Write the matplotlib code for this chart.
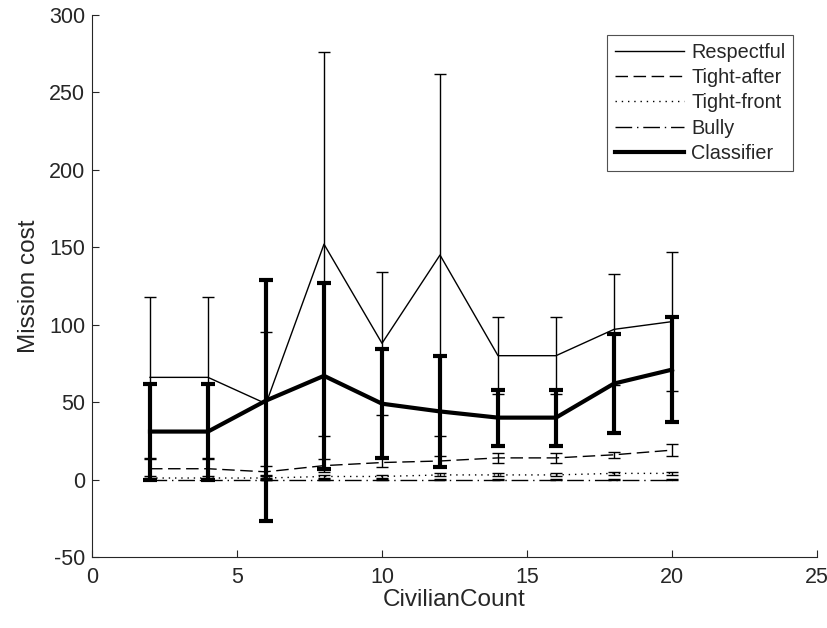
import matplotlib
matplotlib.use("Agg")
import matplotlib.pyplot as plt
from matplotlib.lines import Line2D

plt.rcParams['font.family'] = ['Liberation Sans', 'DejaVu Sans']
plt.rcParams['axes.unicode_minus'] = False

x = [2, 4, 6, 8, 10, 12, 14, 16, 18, 20]

respectful = [66, 66, 49, 152, 88, 145, 80, 80, 97, 102]
respectful_err = [52, 52, 46, 124, 46, 117, 25, 25, 36, 45]

tight_after = [7, 7, 5, 9, 11, 12, 14, 14, 16, 19]
tight_after_err = [6, 6, 4, 4, 3, 3, 3, 3, 2, 4]

tight_front = [1, 1, 1, 2, 2, 3, 3, 3, 4, 4]
tight_front_err = [1, 1, 1, 1, 1, 1, 1, 1, 1, 1]

bully = [0, 0, 0, 0, 0, 0, 0, 0, 0, 0]
bully_err = [0.5, 0.5, 0.5, 0.5, 0.5, 0.5, 0.5, 0.5, 0.5, 0.5]

classifier = [31, 31, 51, 67, 49, 44, 40, 40, 62, 71]
classifier_err = [31, 31, 78, 60, 35, 36, 18, 18, 32, 34]

labels = ['Respectful', 'Tight-after', 'Tight-front', 'Bully', 'Classifier']

fig = plt.figure(figsize=(8.28, 6.28), dpi=100)
ax = fig.add_axes([92/828, 1-557/628, (817-92)/828, (557-15)/628])

DASH = (0, (9, 4))
DOT = (0, (1, 3.5))
DASHDOT = (0, (12, 3.5, 1, 3.5))

ax.errorbar(x, respectful, yerr=respectful_err, color='k', lw=1.0, ls='-',
            capsize=4.3, elinewidth=1.0, capthick=1.0)
ax.errorbar(x, tight_after, yerr=tight_after_err, color='k', lw=1.0, ls=DASH,
            capsize=4.3, elinewidth=1.0, capthick=1.0)
ax.errorbar(x, tight_front, yerr=tight_front_err, color='k', lw=1.0, ls=DOT,
            capsize=4.3, elinewidth=1.0, capthick=1.0)
ax.errorbar(x, bully, yerr=bully_err, color='k', lw=1.0, ls=DASHDOT,
            capsize=4.3, elinewidth=1.0, capthick=1.0)
ax.errorbar(x, classifier, yerr=classifier_err, color='k', lw=3.0, ls='-',
            capsize=5.0, elinewidth=3.0, capthick=3.0)

ax.set_xlim(0, 25)
ax.set_ylim(-50, 300)
ax.set_xticks([0, 5, 10, 15, 20, 25])
ax.set_yticks([-50, 0, 50, 100, 150, 200, 250, 300])
ax.tick_params(direction='in', labelsize=15.5, length=5.3, width=0.8,
               colors='#262626', pad=5)
ax.tick_params(axis='x', pad=7)
ax.spines['top'].set_visible(False)
ax.spines['right'].set_visible(False)
for s in ['left', 'bottom']:
    ax.spines[s].set_color('#262626')
    ax.spines[s].set_linewidth(0.8)

ax.set_xlabel('CivilianCount', fontsize=17.5, color='#262626', labelpad=1)
ax.set_ylabel('Mission cost', fontsize=17.5, color='#262626', labelpad=6)

lh = [Line2D([], [], color='k', lw=1.0, ls='-'),
      Line2D([], [], color='k', lw=1.0, ls=DASH),
      Line2D([], [], color='k', lw=1.0, ls=DOT),
      Line2D([], [], color='k', lw=1.0, ls=DASHDOT),
      Line2D([], [], color='k', lw=3.0, ls='-')]
leg = ax.legend(lh, labels, loc='upper right', bbox_to_anchor=(0.967, 0.963),
                borderaxespad=0, fontsize=14.3, frameon=True, fancybox=False,
                handlelength=3.5, handletextpad=0.35, borderpad=0.38,
                labelspacing=0.32)
leg.get_frame().set_edgecolor('#262626')
leg.get_frame().set_linewidth(0.8)
for t in leg.get_texts():
    t.set_color('#262626')

fig.savefig('out.png', dpi=100)
